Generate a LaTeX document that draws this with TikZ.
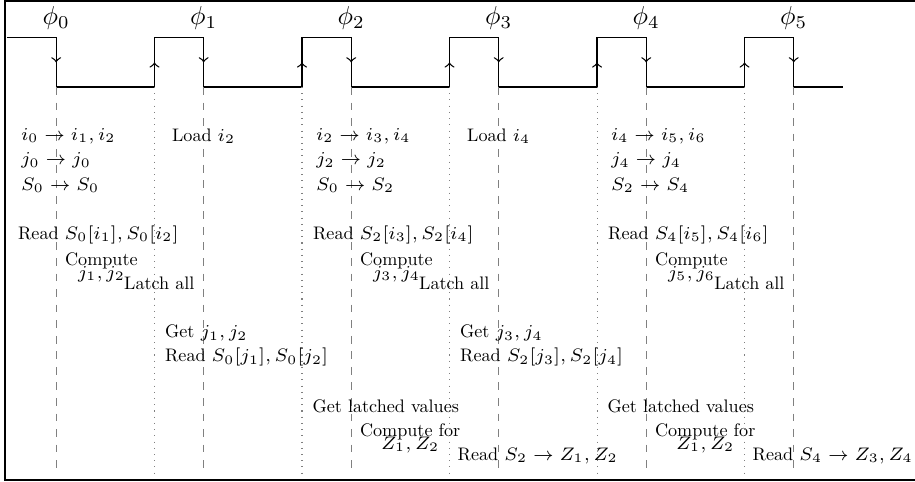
\documentclass[tikz,border=0pt]{standalone}
\usepackage{amsmath, amssymb}
\usepackage{fontspec}
\setmainfont{lmroman10-regular.otf}
\usepackage{tikz}
\usetikzlibrary{arrows.meta, positioning, calc}

\begin{document}
\begin{tikzpicture}[x=0.6667cm, y=0.6667cm, >=to, every node/.style={font=\scriptsize}]
  \tikzset{
    lbl/.style={anchor=west},
    twoline/.style={align=center},
    fall/.style={gray, dashed},
    rise/.style={gray, dotted},
    clk/.style={line width=0.5pt},
  }
  \useasboundingbox (-0.142,1.769) rectangle (18.467,-8.033);
  \draw[semithick] (-0.04,1.75) rectangle (18.6,-7.99);
  % clock
  \draw[clk] (0,1) -- (1,1) -- (1,0) -- (3,0) -- (3,1) -- (4,1) -- (4,0) -- (6,0) -- (6,1) -- (7,1) -- (7,0)
    -- (9,0) -- (9,1) -- (10,1) -- (10,0) -- (12,0) -- (12,1) -- (13,1) -- (13,0) -- (15,0) -- (15,1)
    -- (16,1) -- (16,0) -- (17,0);
  \draw[clk, ->] (1,1) -- (1,0.5);
  \draw[clk, ->] (4,1) -- (4,0.5);
  \draw[clk, ->] (7,1) -- (7,0.5);
  \draw[clk, ->] (10,1) -- (10,0.5);
  \draw[clk, ->] (13,1) -- (13,0.5);
  \draw[clk, ->] (16,1) -- (16,0.5);
  \draw[clk, ->] (3,0) -- (3,0.5);
  \draw[clk, ->] (6,0) -- (6,0.5);
  \draw[clk, ->] (9,0) -- (9,0.5);
  \draw[clk, ->] (12,0) -- (12,0.5);
  \draw[clk, ->] (15,0) -- (15,0.5);
  \node[font=\normalsize] (ph0) at (1,1.4) {$\phi_0$};
  \node[font=\normalsize] (ph1) at (4,1.4) {$\phi_1$};
  \node[font=\normalsize] (ph2) at (7,1.4) {$\phi_2$};
  \node[font=\normalsize] (ph3) at (10,1.4) {$\phi_3$};
  \node[font=\normalsize] (ph4) at (13,1.4) {$\phi_4$};
  \node[font=\normalsize] (ph5) at (16,1.4) {$\phi_5$};
  % edge guides
  \draw[fall] (1,0) -- (1,-7.87);
  \draw[fall] (4,0) -- (4,-7.87);
  \draw[fall] (7,0) -- (7,-7.87);
  \draw[fall] (10,0) -- (10,-7.87);
  \draw[fall] (13,0) -- (13,-7.87);
  \draw[fall] (16,0) -- (16,-7.87);
  \draw[rise] (3,0) -- (3,-7.87);
  \draw[rise] (6,0) -- (6,-7.87);
  \draw[rise] (9,0) -- (9,-7.87);
  \draw[rise] (12,0) -- (12,-7.87);
  \draw[rise] (15,0) -- (15,-7.87);
  % first pass
  \node[lbl] (ia) at (0.1,-1) {$i_0 \to i_1, i_2$};
  \node[lbl] (ja) at (0.1,-1.5) {$j_0 \to j_0$};
  \node[lbl] (sa) at (0.1,-2) {$S_0 \to S_0$};
  \node[lbl] (rda) at (0.04,-3) {Read $S_0[i_1], S_0[i_2]$};
  \node[twoline] (cpa) at (1.92,-3.66) {Compute\\[-3pt]$j_1, j_2$};
  \node[anchor=east] (lta) at (4,-4) {Latch all};
  \node (lda) at (4,-1) {Load $i_2$};
  \node[lbl] (gja) at (3.03,-5) {Get $j_1, j_2$};
  \node[lbl] (rja) at (3.03,-5.5) {Read $S_0[j_1], S_0[j_2]$};
  % second pass
  \node[lbl] (ib) at (6.1,-1) {$i_2 \to i_3, i_4$};
  \node[lbl] (jb) at (6.1,-1.5) {$j_2 \to j_2$};
  \node[lbl] (sb) at (6.1,-2) {$S_0 \to S_2$};
  \node[lbl] (rdb) at (6.04,-3) {Read $S_2[i_3], S_2[i_4]$};
  \node[twoline] (cpb) at (7.92,-3.66) {Compute\\[-3pt]$j_3, j_4$};
  \node[anchor=east] (ltb) at (10,-4) {Latch all};
  \node (ldb) at (10,-1) {Load $i_4$};
  \node[lbl] (gjb) at (9.03,-5) {Get $j_3, j_4$};
  \node[lbl] (rjb) at (9.03,-5.5) {Read $S_2[j_3], S_2[j_4]$};
  \node[lbl] (glb) at (6.03,-6.5) {Get latched values};
  \node[twoline] (czb) at (8.2,-7.14) {Compute for\\[-3pt]$Z_1, Z_2$};
  \node[lbl] (rzb) at (8.98,-7.5) {Read $S_2 \to Z_1, Z_2$};
  % third pass
  \node[lbl] (ic) at (12.1,-1) {$i_4 \to i_5, i_6$};
  \node[lbl] (jc) at (12.1,-1.5) {$j_4 \to j_4$};
  \node[lbl] (sc) at (12.1,-2) {$S_2 \to S_4$};
  \node[lbl] (rdc) at (12.04,-3) {Read $S_4[i_5], S_4[i_6]$};
  \node[twoline] (cpc) at (13.92,-3.66) {Compute\\[-3pt]$j_5, j_6$};
  \node[anchor=east] (ltc) at (16,-4) {Latch all};
  \node[lbl] (glc) at (12.03,-6.5) {Get latched values};
  \node[twoline] (czc) at (14.2,-7.14) {Compute for\\[-3pt]$Z_1, Z_2$};
  \node[lbl] (rzc) at (14.98,-7.5) {Read $S_4 \to Z_3, Z_4$};
\end{tikzpicture}
\end{document}
